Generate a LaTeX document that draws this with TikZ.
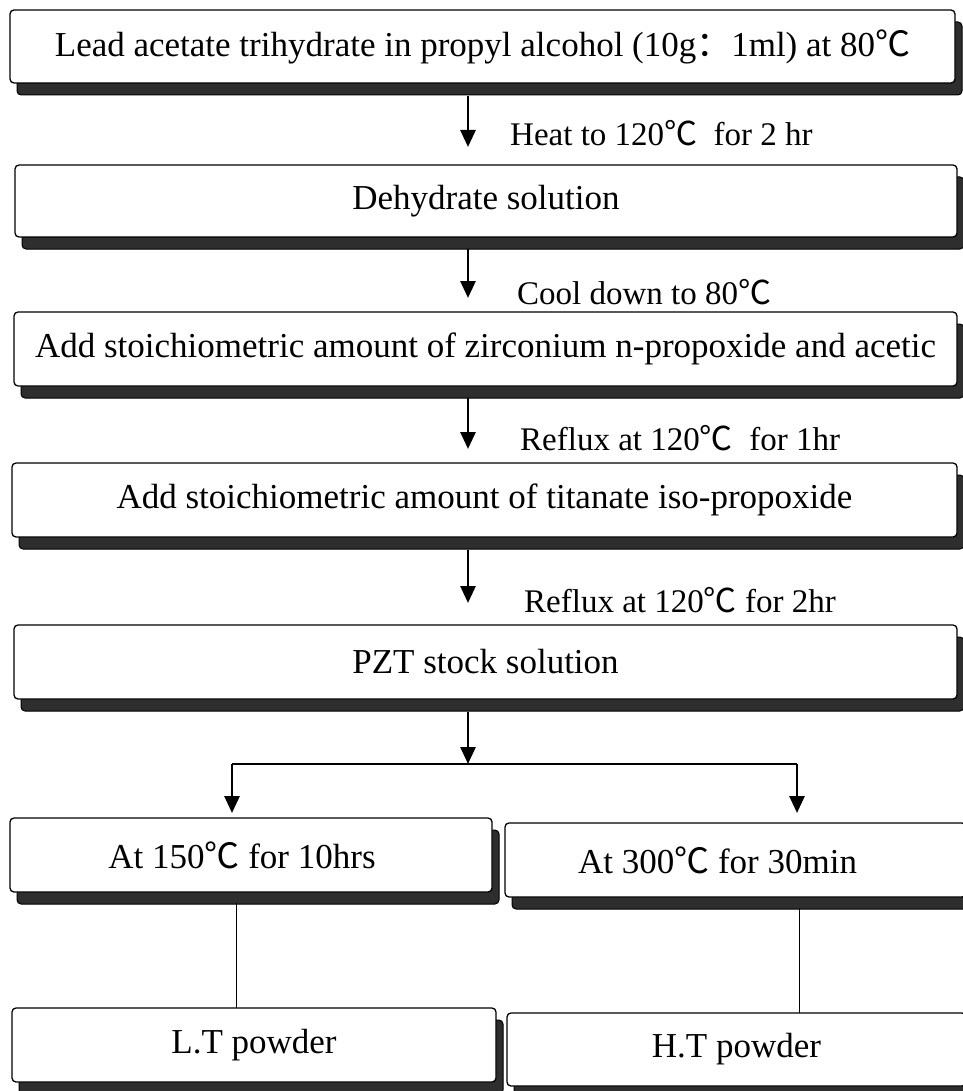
\documentclass[tikz,border=0pt]{standalone}
\usepackage{fontspec}
\setmainfont{Liberation Serif}
\newfontfamily\cjk{Noto Sans CJK SC}
\usetikzlibrary{arrows.meta,shadows}
\newcommand{\dC}{{\cjk ℃}}
\newcommand{\fcolon}{{\cjk ：}}
\definecolor{shadowgray}{HTML}{2E2E2E}
\begin{document}
\begin{tikzpicture}[x=1pt,y=-1pt,
  box/.style={draw=black,line width=1.3pt,fill=white,rounded corners=4pt,
    inner sep=0pt,outer sep=0pt,font=\fontsize{35}{40}\selectfont,
    drop shadow={shadow xshift=7pt,shadow yshift=-12pt,fill=shadowgray,draw=black,line width=1pt,opacity=1}},
  lbl/.style={anchor=west,inner sep=0pt,font=\fontsize{33}{38}\selectfont},
  arr/.style={line width=2.8pt,-{Triangle[width=15pt,length=17pt]}},
  hline/.style={line width=1.6pt},
  thin/.style={line width=1pt}]
\useasboundingbox (0,0) rectangle (962,1091);
\fill[white] (0,0) rectangle (962,1091);
\coordinate (ax) at (468,0);
\coordinate (lx) at (232,0);
\coordinate (rx) at (797,0);
\coordinate (lt) at (236,0);
\coordinate (rt) at (799,0);

\node[box,minimum width=945pt,minimum height=73pt] (b1) at (482.5,46.5)
  {Lead acetate trihydrate in propyl alcohol (10g\fcolon 1ml) at 80\dC};
\node[box,minimum width=942pt,minimum height=72pt] (b2) at (486,201)
  {Dehydrate solution};
\node[box,minimum width=943pt,minimum height=74pt] (b3) at (485.5,349)
  {Add stoichiometric amount of zirconium n-propoxide and acetic};
\node[box,minimum width=945pt,minimum height=74pt] (b4) at (484.5,500)
  {Add stoichiometric amount of titanate iso-propoxide};
\node[box,minimum width=943pt,minimum height=74pt] (b5) at (485.5,662)
  {PZT stock solution};
\node[box,minimum width=482pt,minimum height=74pt] (b6l) at (251,855)
  {\hspace*{-18pt}At 150\dC\ for 10hrs};
\node[box,minimum width=461pt,minimum height=74pt] (b6r) at (735.5,860)
  {\hspace*{-36pt}At 300\dC\ for 30min};
\node[box,minimum width=484pt,minimum height=74pt] (b7l) at (254,1045)
  {L.T powder};
\node[box,minimum width=459pt,minimum height=73pt] (b7r) at (736.5,1049.5)
  {H.T powder};

\node[lbl] (l1) at (510,133) {Heat to 120\dC\ \ for 2 hr};
\node[lbl] (l2) at (517,292) {Cool down to 80\dC};
\node[lbl] (l3) at (520,438) {Reflux at 120\dC\ \ for 1hr};
\node[lbl] (l4) at (524,600) {Reflux at 120\dC\ for 2hr};

\draw[arr,shorten <=13pt,shorten >=18pt] (b1.south -| ax) -- (b2.north -| ax);
\draw[arr,shorten <=12pt,shorten >=14pt] (b2.south -| ax) -- (b3.north -| ax);
\draw[arr,shorten <=12pt,shorten >=14pt] (b3.south -| ax) -- (b4.north -| ax);
\draw[arr,shorten <=13pt,shorten >=22pt] (b4.south -| ax) -- (b5.north -| ax);
\coordinate (split) at (468,764);
\draw[arr,shorten <=13pt] (b5.south -| ax) -- (split);
\draw[hline] (split -| lx) -- (split -| rx);
\draw[arr,shorten >=5pt] (split -| lx) -- (b6l.north -| lx);
\draw[arr,shorten >=10pt] (split -| rx) -- (b6r.north -| rx);
\draw[thin,shorten <=11pt] (b6l.south -| lt) -- (b7l.north -| lt);
\draw[thin,shorten <=11pt] (b6r.south -| rt) -- (b7r.north -| rt);
\end{tikzpicture}
\end{document}
